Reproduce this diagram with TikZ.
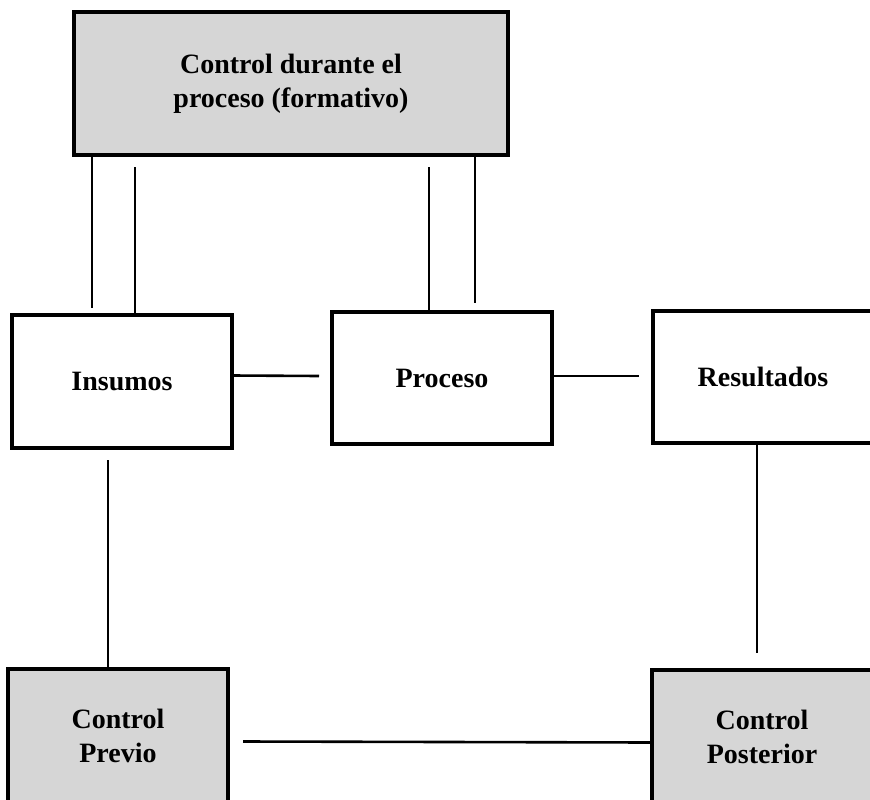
\documentclass[tikz,border=0pt]{standalone}
\usepackage{fontspec}
\setmainfont{Liberation Serif}
\usepackage{xcolor}
\usepackage{tikz}

\begin{document}
\begin{tikzpicture}[x=1pt,y=-1pt,
    bloque/.style={draw, line width=3.4pt, minimum width=220pt, minimum height=133pt,
      align=center, font=\fontsize{28}{34}\selectfont\bfseries, inner sep=0pt, outer sep=0pt},
    gris/.style={bloque, fill=black!16},
    enlace/.style={line width=2.6pt}]
    \useasboundingbox (0,0) rectangle (870,800);
    \clip (0,0) rectangle (870,800);
    \node [gris, minimum width=434pt, minimum height=143pt] (durante) at (291,83.5)
      {Control durante el\\proceso (formativo)};
    \node [bloque] (insumos) at (122,381.5) {Insumos};
    \node [bloque, minimum height=132pt] (proceso) at (442,378) {Proceso};
    \node [bloque, minimum height=132pt] (resultados) at (763,377) {Resultados};
    \node [gris] (previo) at (118,735.5) {Control\\Previo};
    \node [gris] (posterior) at (762,736.5) {Control\\Posterior};
    \draw [enlace] ([xshift=18pt]durante.south west) -- ([xshift=80pt,yshift=7pt]insumos.north west);
    \draw [enlace] ([xshift=61pt,yshift=-12pt]durante.south west) -- ([xshift=123pt]insumos.north west);
    \draw [enlace] ([xshift=355pt,yshift=-12pt]durante.south west) -- ([xshift=97pt]proceso.north west);
    \draw [enlace] ([xshift=-33pt]durante.south east) -- ([xshift=143pt,yshift=9pt]proceso.north west);
    \draw [enlace] ([yshift=6pt]insumos.east) -- ([xshift=-13pt,yshift=2pt]proceso.west);
    \draw [enlace] ([yshift=2pt]proceso.east) -- ([xshift=-14pt,yshift=1pt]resultados.west);
    \draw [enlace] ([xshift=-14pt,yshift=-12pt]insumos.south) -- ([xshift=-10pt]previo.north);
    \draw [enlace] ([xshift=-6pt]resultados.south) -- ([xshift=-5pt,yshift=17pt]posterior.north);
    \draw [enlace] ([xshift=15pt,yshift=-6pt]previo.east) -- ([yshift=-6pt]posterior.west);
\end{tikzpicture}
\end{document}
